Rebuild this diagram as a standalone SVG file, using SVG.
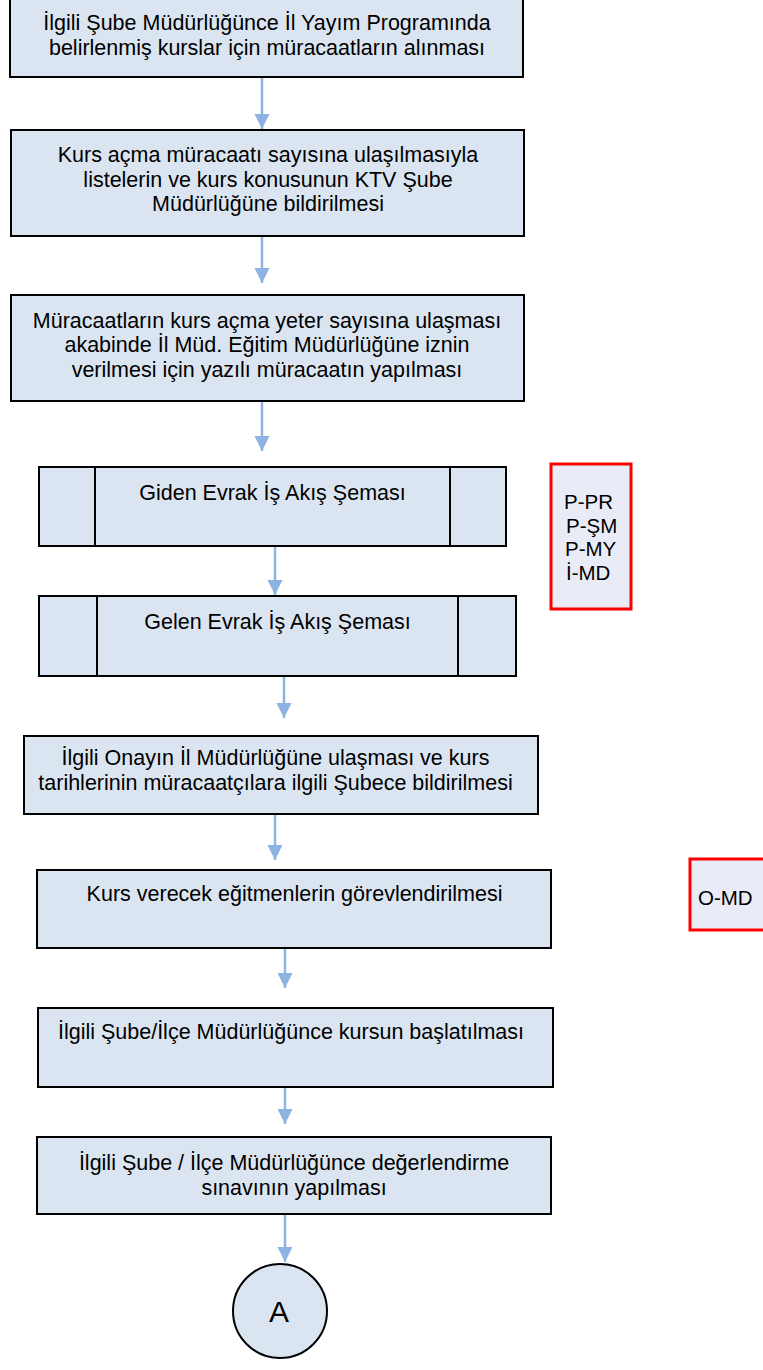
<svg xmlns="http://www.w3.org/2000/svg" width="763" height="1370" viewBox="0 0 763 1370">
<style>
.box{fill:#dbe5f1;stroke:#000;stroke-width:2}
.ln{stroke:#000;stroke-width:2}
.red{fill:#e9ecf7;stroke:#ff0000;stroke-width:3}
.t{font-family:"Liberation Sans",Arial,sans-serif;font-size:21.5px;fill:#000;text-anchor:middle}
.tl{font-family:"Liberation Sans",Arial,sans-serif;font-size:20.5px;fill:#000}
.c{stroke:#8db3e2;stroke-width:2.5;fill:none}
</style>
<defs>
<marker id="ah" markerUnits="userSpaceOnUse" markerWidth="16" markerHeight="16" refX="15" refY="8" orient="auto">
<path d="M0,0.5 L15,8 L0,15.5 Z" fill="#8db3e2"/>
</marker>
</defs>
<rect width="763" height="1370" fill="#fff"/>
<g id="connectors">
<line class="c" x1="262" y1="78" x2="262" y2="129" marker-end="url(#ah)"/>
<line class="c" x1="262" y1="236" x2="262" y2="283" marker-end="url(#ah)"/>
<line class="c" x1="262" y1="400" x2="262" y2="451" marker-end="url(#ah)"/>
<line class="c" x1="275" y1="546" x2="275" y2="595" marker-end="url(#ah)"/>
<line class="c" x1="284" y1="676" x2="284" y2="718" marker-end="url(#ah)"/>
<line class="c" x1="275" y1="813" x2="275" y2="860" marker-end="url(#ah)"/>
<line class="c" x1="285" y1="948" x2="285" y2="988" marker-end="url(#ah)"/>
<line class="c" x1="285" y1="1086" x2="285" y2="1124" marker-end="url(#ah)"/>
<line class="c" x1="285" y1="1214" x2="285" y2="1262" marker-end="url(#ah)"/>
</g>
<g id="n1">
<rect class="box" x="10" y="-2" width="513" height="79"/>
<text class="t" x="267" y="30">İlgili Şube Müdürlüğünce İl Yayım Programında</text>
<text class="t" x="267" y="54.5">belirlenmiş kurslar için müracaatların alınması</text>
</g>
<g id="n2">
<rect class="box" x="11" y="130" width="513" height="106"/>
<text class="t" x="268" y="162">Kurs açma müracaatı sayısına ulaşılmasıyla</text>
<text class="t" x="268" y="186.5">listelerin ve kurs konusunun KTV Şube</text>
<text class="t" x="268" y="211">Müdürlüğüne bildirilmesi</text>
</g>
<g id="n3">
<rect class="box" x="11" y="295" width="513" height="106"/>
<text class="t" x="267" y="327.5">Müracaatların kurs açma yeter sayısına ulaşması</text>
<text class="t" x="267" y="352">akabinde İl Müd. Eğitim Müdürlüğüne iznin</text>
<text class="t" x="267" y="376.5">verilmesi için yazılı müracaatın yapılması</text>
</g>
<g id="n4">
<rect class="box" x="39" y="467" width="467" height="79"/>
<line class="ln" x1="95" y1="467" x2="95" y2="546"/>
<line class="ln" x1="450" y1="467" x2="450" y2="546"/>
<text class="t" x="272.5" y="500">Giden Evrak İş Akış Şeması</text>
</g>
<g id="n5">
<rect class="box" x="39" y="596" width="477" height="80"/>
<line class="ln" x1="97" y1="596" x2="97" y2="676"/>
<line class="ln" x1="458" y1="596" x2="458" y2="676"/>
<text class="t" x="277.5" y="629">Gelen Evrak İş Akış Şeması</text>
</g>
<g id="n6">
<rect class="box" x="24" y="736" width="514" height="78"/>
<text class="t" x="275.5" y="765">İlgili Onayın İl Müdürlüğüne ulaşması ve kurs</text>
<text class="t" x="275.5" y="789.5">tarihlerinin müracaatçılara ilgili Şubece bildirilmesi</text>
</g>
<g id="n7">
<rect class="box" x="37" y="870" width="514" height="78"/>
<text class="t" x="294.5" y="901">Kurs verecek eğitmenlerin görevlendirilmesi</text>
</g>
<g id="n8">
<rect class="box" x="38" y="1008" width="515" height="79"/>
<text class="t" x="291" y="1039">İlgili Şube/İlçe Müdürlüğünce kursun başlatılması</text>
</g>
<g id="n9">
<rect class="box" x="37" y="1137" width="514" height="77"/>
<text class="t" x="294" y="1170">İlgili Şube / İlçe Müdürlüğünce değerlendirme</text>
<text class="t" x="294" y="1194.5">sınavının yapılması</text>
</g>
<g id="nA">
<circle cx="280" cy="1311" r="47" fill="#dbe5f1" stroke="#000" stroke-width="2"/>
<text x="279" y="1322" font-family="Liberation Sans, Arial, sans-serif" font-size="30" text-anchor="middle">A</text>
</g>
<g id="r1">
<rect class="red" x="551" y="464" width="80" height="145"/>
<text class="tl" x="564" y="509">P-PR</text>
<text class="tl" x="566" y="533">P-ŞM</text>
<text class="tl" x="565" y="556">P-MY</text>
<text class="tl" x="566" y="580">İ-MD</text>
</g>
<g id="r2">
<rect class="red" x="690" y="859" width="80" height="71"/>
<text class="tl" x="698" y="905">O-MD</text>
</g>
</svg>
